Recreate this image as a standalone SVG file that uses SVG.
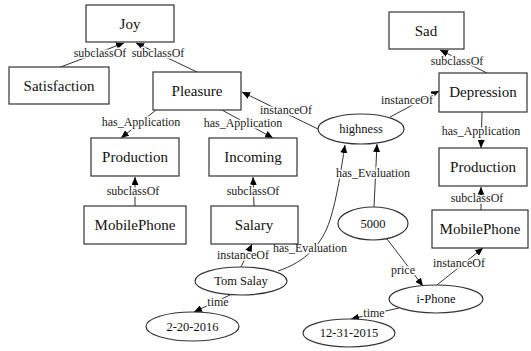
<svg xmlns="http://www.w3.org/2000/svg" width="531" height="351" viewBox="0 0 531 351">
<style>
  .box { fill: #fff; stroke: #333; stroke-width: 1.2; }
  .ell { fill: #fff; stroke: #333; stroke-width: 1.2; }
  .nt { font-family: "Liberation Serif", "Times New Roman", serif; font-size: 15px; text-anchor: middle; dominant-baseline: central; fill: #111; }
  .et { font-family: "Liberation Serif", "Times New Roman", serif; font-size: 12.5px; text-anchor: middle; dominant-baseline: central; fill: #111; }
  .edge { fill: none; stroke: #333; stroke-width: 1; marker-end: url(#arr); }
  .lbl { font-family: "Liberation Serif", "Times New Roman", serif; font-size: 12px; text-anchor: middle; dominant-baseline: central; fill: #222; stroke: #fff; stroke-width: 3; paint-order: stroke; stroke-linejoin: round; }
</style>
<defs>
  <marker id="arr" markerUnits="userSpaceOnUse" markerWidth="9" markerHeight="7" refX="8" refY="3.5" orient="auto">
    <path d="M0,0 L8,3.5 L0,7 z" fill="#000"/>
  </marker>
</defs>
<rect width="531" height="351" fill="#fff"/>
<g id="connectors">
  <line class="edge" x1="58" y1="68" x2="124" y2="43"/>
  <line class="edge" x1="197" y1="72" x2="136" y2="43"/>
  <line class="edge" x1="156" y1="110" x2="121" y2="138"/>
  <line class="edge" x1="222" y1="110" x2="273" y2="138"/>
  <line class="edge" x1="135" y1="206" x2="135" y2="177"/>
  <line class="edge" x1="254" y1="206" x2="253" y2="177"/>
  <line class="edge" x1="320" y1="130" x2="242" y2="92"/>
  <line class="edge" x1="390" y1="117" x2="439" y2="91"/>
  <line class="edge" x1="487" y1="73" x2="440" y2="50"/>
  <line class="edge" x1="482" y1="112" x2="481" y2="148"/>
  <line class="edge" x1="481" y1="210" x2="481" y2="187"/>
  <line class="edge" x1="374" y1="207" x2="377" y2="144"/>
  <path class="edge" d="M278,271 C305,262 322,245 330,220 C337,198 341,170 345,145"/>
  <line class="edge" x1="241" y1="267" x2="252" y2="244"/>
  <line class="edge" x1="232" y1="294" x2="194" y2="312"/>
  <line class="edge" x1="387" y1="239" x2="423" y2="286"/>
  <line class="edge" x1="437" y1="285" x2="483" y2="248"/>
  <line class="edge" x1="399" y1="308" x2="351" y2="319"/>
  <text class="lbl" x="100" y="53">subclassOf</text>
  <text class="lbl" x="158" y="53">subclassOf</text>
  <text class="lbl" x="141" y="122">has_Application</text>
  <text class="lbl" x="243" y="123">has_Application</text>
  <text class="lbl" x="286" y="110">instanceOf</text>
  <text class="lbl" x="133" y="191">subclassOf</text>
  <text class="lbl" x="253" y="191">subclassOf</text>
  <text class="lbl" x="407" y="100">instanceOf</text>
  <text class="lbl" x="457" y="61">subclassOf</text>
  <text class="lbl" x="481" y="131">has_Application</text>
  <text class="lbl" x="477" y="198">subclassOf</text>
  <text class="lbl" x="373" y="173">has_Evaluation</text>
  <text class="lbl" x="310" y="248">has_Evaluation</text>
  <text class="lbl" x="243" y="255">instanceOf</text>
  <text class="lbl" x="218" y="302">time</text>
  <text class="lbl" x="403" y="270">price</text>
  <text class="lbl" x="459" y="263">instanceOf</text>
  <text class="lbl" x="374" y="313">time</text>
</g>
<g id="joy"><rect class="box" x="86" y="5" width="88" height="37"/><text class="nt" x="130" y="24">Joy</text></g>
<g id="satisfaction"><rect class="box" x="9" y="67" width="100" height="37"/><text class="nt" x="59" y="86">Satisfaction</text></g>
<g id="pleasure"><rect class="box" x="153" y="72" width="88" height="38"/><text class="nt" x="197" y="91">Pleasure</text></g>
<g id="sad"><rect class="box" x="389" y="12" width="75" height="37"/><text class="nt" x="426" y="31">Sad</text></g>
<g id="depression"><rect class="box" x="439" y="73" width="88" height="39"/><text class="nt" x="483" y="92">Depression</text></g>
<g id="highness"><ellipse class="ell" cx="361" cy="129" rx="43" ry="15"/><text class="et" x="361" y="129">highness</text></g>
<g id="production-left"><rect class="box" x="91" y="138" width="88" height="38"/><text class="nt" x="135" y="157">Production</text></g>
<g id="incoming"><rect class="box" x="209" y="138" width="88" height="38"/><text class="nt" x="253" y="157">Incoming</text></g>
<g id="production-right"><rect class="box" x="439" y="148" width="88" height="38"/><text class="nt" x="483" y="167">Production</text></g>
<g id="mobilephone-left"><rect class="box" x="84" y="206" width="102" height="38"/><text class="nt" x="135" y="225">MobilePhone</text></g>
<g id="salary"><rect class="box" x="211" y="206" width="87" height="38"/><text class="nt" x="254" y="225">Salary</text></g>
<g id="n5000"><ellipse class="ell" cx="373" cy="223.5" rx="35" ry="16.5"/><text class="et" x="373" y="224">5000</text></g>
<g id="mobilephone-right"><rect class="box" x="432" y="210" width="96" height="38"/><text class="nt" x="480" y="229">MobilePhone</text></g>
<g id="tomsalay"><ellipse class="ell" cx="241" cy="281" rx="46" ry="14"/><text class="et" x="241" y="281">Tom Salay</text></g>
<g id="iphone"><ellipse class="ell" cx="436" cy="299" rx="47" ry="14"/><text class="et" x="436" y="299">i-Phone</text></g>
<g id="d2202016"><ellipse class="ell" cx="192.5" cy="326.5" rx="46.5" ry="14.5"/><text class="et" x="192.5" y="327">2-20-2016</text></g>
<g id="d12312015"><ellipse class="ell" cx="349" cy="333" rx="46" ry="14"/><text class="et" x="349" y="333">12-31-2015</text></g>
</svg>
